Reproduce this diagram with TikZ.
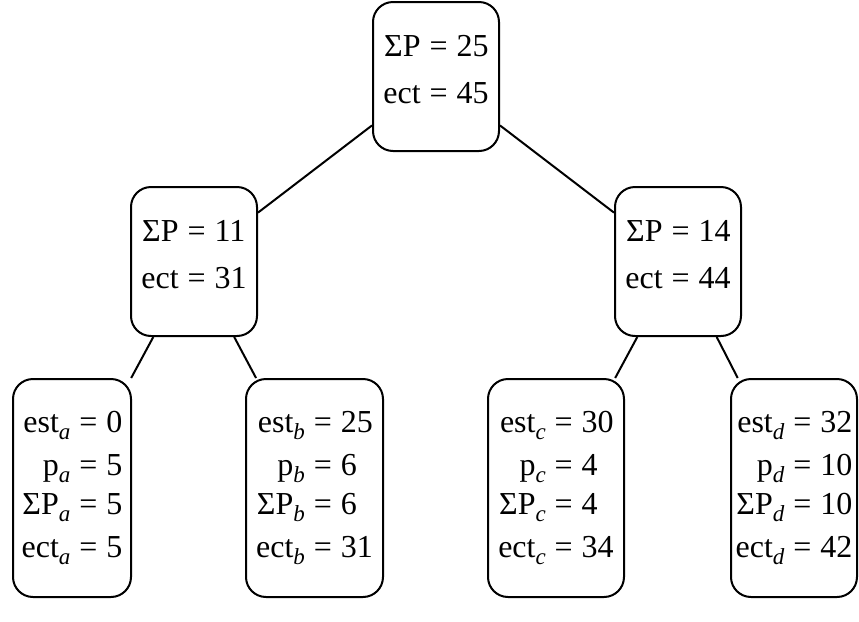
\documentclass[tikz,border=0pt]{standalone}
\usepackage{fontspec}
\setmainfont{Liberation Serif}
\usepackage{tikz}

% italic lowered index for the job values
\newcommand{\ix}[1]{\raisebox{-0.24em}{\fontsize{11.5pt}{11.5pt}\selectfont\textit{#1}}}
\newcommand{\eqsep}{\hspace{0.28em}=\hspace{0.28em}}

\tikzset{
    treebox/.style={draw, line width=1pt, rounded corners=10pt, anchor=north,
        inner xsep=1pt, inner ysep=0pt, font=\fontsize{16pt}{19pt}\selectfont},
    sumbox/.style={treebox, minimum width=63pt, text height=27pt, text depth=47.5pt},
    jobbox/.style={treebox, text height=26.5pt, text depth=82.5pt},
    link/.style={line width=1pt}
}

\begin{document}
\begin{tikzpicture}[x=0.5pt, y=-0.5pt]
        \useasboundingbox (0,0) rectangle (859,622);

        % Root and the two groups
        \node[sumbox] (root) at (436,1) {\begin{tabular}[t]{@{}r@{\eqsep}l@{}}
            ΣP & 25\\[4.5pt] ect & 45\end{tabular}};
        \node[sumbox] (grpL) at (194,186) {\begin{tabular}[t]{@{}r@{\eqsep}l@{}}
            ΣP & 11\\[4.5pt] ect & 31\end{tabular}};
        \node[sumbox] (grpR) at (678,186) {\begin{tabular}[t]{@{}r@{\eqsep}l@{}}
            ΣP & 14\\[4.5pt] ect & 44\end{tabular}};

        % Leaves: one box per job
        \foreach \j/\x/\w/\estj/\pj/\sumj/\ectj in {a/72/59pt/0/5/5/5, b/314.5/68.5pt/25/6/6/31,
                c/556/68pt/30/4/4/34, d/794/63pt/32/10/10/42} {
            \node[jobbox, minimum width=\w] (job\j) at (\x,378) {\begin{tabular}[t]{@{}r@{\eqsep}l@{}}
                est\ix{\j} & \estj\\[2.5pt]
                p\ix{\j} & \pj\\[0.5pt]
                ΣP\ix{\j} & \sumj\\[2.5pt]
                ect\ix{\j} & \ectj
            \end{tabular}};
        }

        % Tree edges
        \draw[link] (root) -- (grpL);
        \draw[link] (root) -- (grpR);
        \draw[link] (grpL) -- (joba);
        \draw[link] (grpL) -- (jobb);
        \draw[link] (grpR) -- (jobc);
        \draw[link] (grpR) -- (jobd);
    \end{tikzpicture}
\end{document}
